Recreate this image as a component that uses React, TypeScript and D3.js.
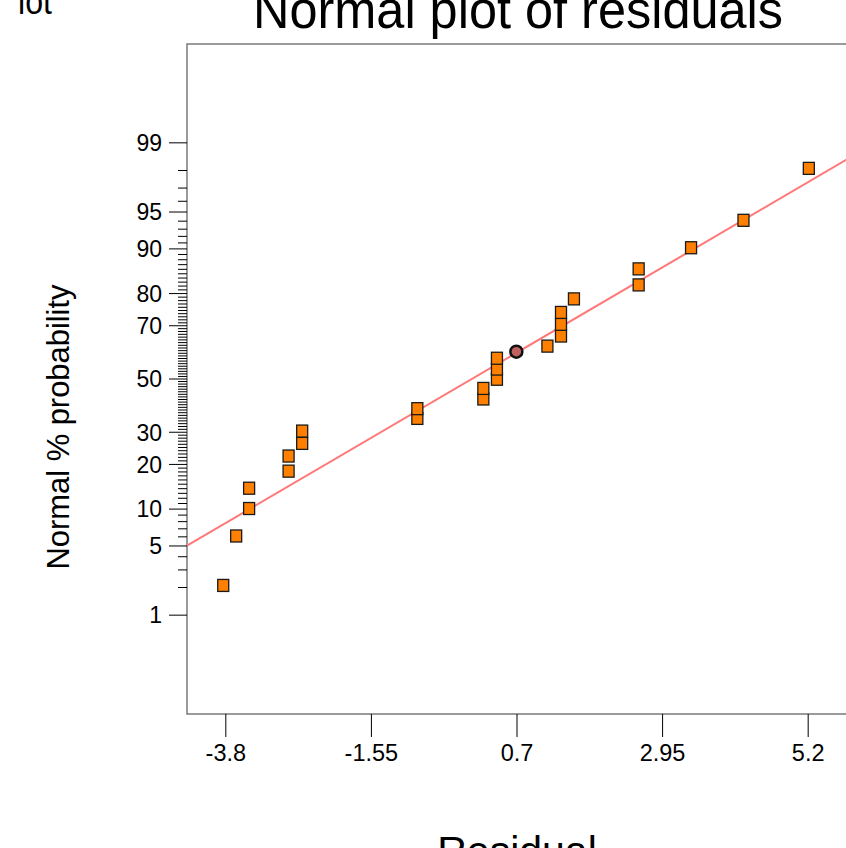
import React from 'react';
import * as d3 from 'd3';

// Residuals (sorted) and their normal % probability positions
const residuals = [
  -3.84, -3.64, -3.44, -3.44, -2.83, -2.83, -2.62, -2.62, -0.84, -0.84,
  0.18, 0.18, 0.39, 0.39, 0.39, 0.69, 1.17, 1.38, 1.38, 1.38,
  1.58, 2.58, 2.58, 3.39, 4.2, 5.21,
];
const probabilities = [
  2.1, 6.1, 10.1, 14.1, 18.2, 22.4, 26.3, 30.4, 34.9, 38.5,
  42.2, 46.3, 49.9, 53.9, 58.1, 60.6, 62.7, 66.4, 70.5, 74.4,
  78.5, 82.3, 86.1, 90.2, 94.1, 98.1,
];
// index of the run drawn as a circle
const highlightIndex = 15;

const xTicks = [-3.8, -1.55, 0.7, 2.95, 5.2];
const xTickLabels = ['-3.8', '-1.55', '0.7', '2.95', '5.2'];
const yMajorTicks = [1, 5, 10, 20, 30, 50, 70, 80, 90, 95, 99];
const yMinorTicks = [
  2, 3, 4, 6, 7, 8, 9,
  11, 12, 13, 14, 15, 16, 17, 18, 19,
  21, 22, 23, 24, 25, 26, 27, 28, 29,
  31, 32, 33, 34, 35, 36, 37, 38, 39, 40, 41, 42, 43, 44, 45, 46, 47, 48, 49,
  51, 52, 53, 54, 55, 56, 57, 58, 59, 60, 61, 62, 63, 64, 65, 66, 67, 68, 69,
  71, 72, 73, 74, 75, 76, 77, 78, 79,
  81, 82, 83, 84, 85, 86, 87, 88, 89,
  91, 92, 93, 94, 96, 97, 98,
];

// reference normal line
const fitMean = 0;
const fitSigma = 2.68;

// inverse standard normal CDF (Acklam)
function probit(p: number): number {
  const a = [-3.969683028665376e1, 2.209460984245205e2, -2.759285104469687e2, 1.38357751867269e2, -3.066479806614716e1, 2.506628277459239];
  const b = [-5.447609879822406e1, 1.615858368580409e2, -1.556989798598866e2, 6.680131188771972e1, -1.328068155288572e1];
  const c = [-7.784894002430293e-3, -3.223964580411365e-1, -2.400758277161838, -2.549732539343734, 4.374664141464968, 2.938163982698783];
  const d = [7.784695709041462e-3, 3.224671290700398e-1, 2.445134137142996, 3.754408661907416];
  const pl = 0.02425;
  if (p < pl) {
    const q = Math.sqrt(-2 * Math.log(p));
    return (((((c[0] * q + c[1]) * q + c[2]) * q + c[3]) * q + c[4]) * q + c[5]) /
      ((((d[0] * q + d[1]) * q + d[2]) * q + d[3]) * q + 1);
  }
  if (p > 1 - pl) {
    const q = Math.sqrt(-2 * Math.log(1 - p));
    return -(((((c[0] * q + c[1]) * q + c[2]) * q + c[3]) * q + c[4]) * q + c[5]) /
      ((((d[0] * q + d[1]) * q + d[2]) * q + d[3]) * q + 1);
  }
  const q = p - 0.5;
  const r = q * q;
  return (((((a[0] * r + a[1]) * r + a[2]) * r + a[3]) * r + a[4]) * r + a[5]) * q /
    (((((b[0] * r + b[1]) * r + b[2]) * r + b[3]) * r + b[4]) * r + 1);
}

const W = 846;
const H = 848;
const plot = { left: 187, right: 847, top: 44, bottom: 714 };
const FONT = 'Liberation Sans, Arial, sans-serif';

export default function App() {
  const x = d3.scaleLinear().domain([-4.4, 5.8]).range([plot.left, plot.right]);
  const z = d3.scaleLinear().domain([-3.3, 3.3]).range([plot.bottom, plot.top]);
  const y = (pct: number) => z(probit(pct / 100));

  const fitLine = d3
    .line<number>()
    .x((v) => x(v))
    .y((v) => z((v - fitMean) / fitSigma));
  const fitPath = fitLine(x.domain()) || '';

  const sqW = 11;
  const sqH = 12;

  return (
    <svg
      width={W}
      height={H}
      style={{ position: 'absolute', left: 0, top: 0, background: '#fff' }}
      fontFamily={FONT}
    >
      <text x={18} y={14} fontSize={36} textLength={34} lengthAdjust="spacingAndGlyphs" fill="#000">lot</text>
      <text
        x={518}
        y={28}
        fontSize={53}
        textAnchor="middle"
        textLength={530}
        lengthAdjust="spacingAndGlyphs"
        fill="#000"
      >
        Normal plot of residuals
      </text>

      {/* plot frame */}
      <rect
        x={plot.left}
        y={plot.top}
        width={plot.right - plot.left}
        height={plot.bottom - plot.top}
        fill="none"
        stroke="#7a7a7a"
        strokeWidth={1.5}
      />

      {/* y axis ticks */}
      {yMinorTicks.map((p) => (
        <line key={'m' + p} x1={plot.left - 9} x2={plot.left} y1={y(p)} y2={y(p)} stroke="#000" strokeWidth={1} />
      ))}
      {yMajorTicks.map((p) => (
        <g key={'M' + p}>
          <line x1={plot.left - 18} x2={plot.left} y1={y(p)} y2={y(p)} stroke="#000" strokeWidth={1} />
          <text x={plot.left - 25} y={y(p)} dy="0.36em" fontSize={23} textAnchor="end" fill="#000">
            {p}
          </text>
        </g>
      ))}

      {/* x axis ticks */}
      {xTicks.map((v, i) => (
        <g key={'x' + v}>
          <line x1={x(v)} x2={x(v)} y1={plot.bottom} y2={plot.bottom + 23} stroke="#000" strokeWidth={1} />
          <text x={x(v)} y={plot.bottom + 47} fontSize={23.5} textAnchor="middle" fill="#000">
            {xTickLabels[i]}
          </text>
        </g>
      ))}

      {/* axis titles */}
      <text
        transform={`translate(69, 427) rotate(-90)`}
        fontSize={32}
        textAnchor="middle"
        textLength={285}
        lengthAdjust="spacingAndGlyphs"
        fill="#000"
      >
        Normal % probability
      </text>
      <text x={517} y={865} fontSize={41} textAnchor="middle" fill="#000">
        Residual
      </text>

      {/* fitted normal line */}
      <path d={fitPath} fill="none" stroke="#ff7878" strokeWidth={2} />

      {/* points */}
      {residuals.map((r, i) =>
        i === highlightIndex ? (
          <circle key={i} cx={x(r)} cy={y(probabilities[i])} r={6} fill="#c0605f" stroke="#111" strokeWidth={2.5} />
        ) : (
          <rect
            key={i}
            x={x(r) - sqW / 2}
            y={y(probabilities[i]) - sqH / 2}
            width={sqW}
            height={sqH}
            fill="#ff8000"
            stroke="#1a1a1a"
            strokeWidth={1.3}
          />
        )
      )}
    </svg>
  );
}
